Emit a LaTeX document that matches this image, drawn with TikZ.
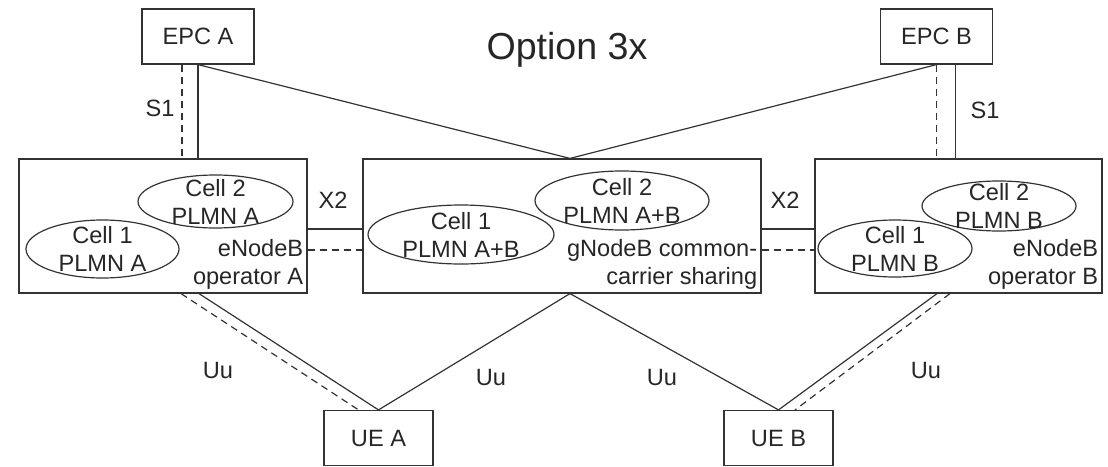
\documentclass[tikz,border=0pt]{standalone}
\usepackage{fontspec}
\setmainfont{Liberation Sans}
\usetikzlibrary{shapes.geometric}
\usetikzlibrary{arrows.meta, positioning}

\begin{document}
\begin{tikzpicture}[x=0.5pt, y=-0.5pt,
    every node/.style = {font=\fontsize{11.8}{14}\selectfont, text=black!85},
    box/.style = {draw=black!80, line width=0.6pt, rectangle, inner sep=0pt},
    small/.style = {box, minimum width=56pt, minimum height=27.5pt},
    big/.style = {box, minimum height=67pt},
    cell/.style = {draw=black!80, line width=0.6pt, ellipse, inner sep=0pt},
    celltext/.style = {align=center, inner sep=0pt},
    nbtext/.style = {align=right, anchor=south east, inner sep=2pt},
    link/.style = {draw=black!80, line width=0.6pt},
    dashlink/.style = {link, dash pattern=on 3.5pt off 2.5pt}
    ]
    \useasboundingbox (0,0) rectangle (1108,466);

    \node[font=\fontsize{18.8}{22}\selectfont] (title) at (567,50) {Option 3x};

    % core and terminals
    \node[small] (epcA) at (198,36.5) {EPC A};
    \node[small] (epcB) at (936.5,36.5) {EPC B};
    \node[small, minimum width=54.5pt] (ueA) at (378.5,438) {UE A};
    \node[small, minimum width=54.5pt] (ueB) at (778.5,438) {UE B};

    % base stations
    \node[big, minimum width=144pt] (enbA) at (163,226) {};
    \node[big, minimum width=199pt] (gnb) at (562,226) {};
    \node[big, minimum width=143.5pt] (enbB) at (958.5,226) {};

    \node[nbtext] (enbAtext) at (enbA.south east) {eNodeB\\operator A};
    \node[nbtext] (gnbtext) at (gnb.south east) {gNodeB common-\\carrier sharing};
    \node[nbtext] (enbBtext) at (enbB.south east) {eNodeB\\operator B};

    % cells
    \node[cell, minimum width=77.5pt, minimum height=26.5pt] (a2) at (215.5,201.5) {};
    \node[celltext] (a2text) at (a2) {Cell 2\\PLMN A};
    \node[cell, minimum width=76.5pt, minimum height=29pt] (a1) at (102.5,249) {};
    \node[celltext] (a1text) at (a1) {Cell 1\\PLMN A};
    \node[cell, minimum width=93pt, minimum height=29.5pt] (g1) at (461,234.5) {};
    \node[celltext] (g1text) at (g1) {Cell 1\\PLMN A+B};
    \node[cell, minimum width=87pt, minimum height=29.5pt] (g2) at (622,200.5) {};
    \node[celltext] (g2text) at (g2) {Cell 2\\PLMN A+B};
    \node[cell, minimum width=77pt, minimum height=25pt] (b2) at (999,206) {};
    \node[celltext] (b2text) at (b2) {Cell 2\\PLMN B};
    \node[cell, minimum width=77pt, minimum height=28.5pt] (b1) at (895,248.5) {};
    \node[celltext] (b1text) at (b1) {Cell 1\\PLMN B};

    % S1
    \draw[link] (epcA.south) -- (epcA.south |- enbA.north);
    \draw[dashlink] ([xshift=-8pt]epcA.south) -- ([xshift=-8pt]epcA.south |- enbA.north);
    \draw[link] ([xshift=9.5pt]epcB.south) -- ([xshift=9.5pt]epcB.south |- enbB.north);
    \draw[dashlink] (epcB.south) -- (epcB.south |- enbB.north);
    \draw[link] (epcA.south) -- ([xshift=4pt]gnb.north);
    \draw[link] (epcB.south) -- ([xshift=4pt]gnb.north);

    % X2
    \draw[link] ([yshift=-1.5pt]enbA.east) -- ([yshift=-1.5pt]gnb.west);
    \draw[dashlink] ([yshift=-12pt]enbA.east) -- ([yshift=-12pt]gnb.west);
    \draw[link] ([yshift=-1.5pt]gnb.east) -- ([yshift=-1.5pt]enbB.west);
    \draw[dashlink] ([yshift=-12pt]gnb.east) -- ([yshift=-12pt]enbB.west);

    % Uu
    \draw[link] ([xshift=18pt]enbA.south) -- (ueA.north);
    \draw[dashlink] ([xshift=9pt]enbA.south) -- ([xshift=-10pt]ueA.north);
    \draw[link] ([xshift=4pt]gnb.south) -- (ueA.north);
    \draw[link] ([xshift=4pt]gnb.south) -- (ueB.north);
    \draw[link] ([xshift=-10.75pt]enbB.south) -- (ueB.north);
    \draw[dashlink] ([xshift=-4.25pt]enbB.south) -- ([xshift=8.25pt]ueB.north);

    % interface names
    \node (s1A) at (160,108) {S1};
    \node (s1B) at (985,110) {S1};
    \node (x2A) at (333,200) {X2};
    \node (x2B) at (785,200) {X2};
    \node (uuA) at (218,370) {Uu};
    \node (uuGA) at (491,377) {Uu};
    \node (uuGB) at (662,377) {Uu};
    \node (uuB) at (926,370) {Uu};
\end{tikzpicture}
\end{document}
